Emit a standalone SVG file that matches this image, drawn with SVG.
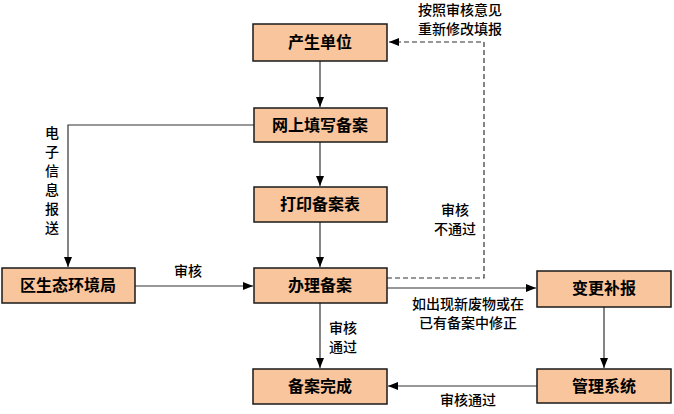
<svg xmlns="http://www.w3.org/2000/svg" width="674" height="414" viewBox="0 0 674 414">
<defs>
<marker id="ah" markerWidth="10" markerHeight="8" refX="10" refY="4" orient="auto" markerUnits="userSpaceOnUse">
<path d="M0,0 L10,4 L0,8 Z" fill="#000"/>
</marker>
<style>
.box{fill:#F8C59C;stroke:#1a1a1a;stroke-width:1.5}
.bt{font-family:"Noto Sans CJK SC","Noto Sans",sans-serif;font-size:16px;font-weight:bold;text-anchor:middle;fill:#000}
.lb{font-family:"Noto Sans CJK SC","Noto Sans",sans-serif;font-size:14px;font-weight:500;text-anchor:middle;fill:#000}
.ln{fill:none;stroke:#333;stroke-width:1.2}
.dl{fill:none;stroke:#333;stroke-width:1.2;stroke-dasharray:5,3}
</style>
</defs>
<rect width="674" height="414" fill="#fff"/>
<g id="connectors">
<path class="ln" d="M320,61 V107" marker-end="url(#ah)"/>
<path class="ln" d="M320,142 V186" marker-end="url(#ah)"/>
<path class="ln" d="M320,222 V267" marker-end="url(#ah)"/>
<path class="ln" d="M254,125 H68 V267" marker-end="url(#ah)"/>
<path class="ln" d="M135,286 H253" marker-end="url(#ah)"/>
<path class="ln" d="M320,303 V368" marker-end="url(#ah)"/>
<path class="dl" d="M387,278 H484 V42 H389" marker-end="url(#ah)"/>
<path class="ln" d="M387,288 H536" marker-end="url(#ah)"/>
<path class="ln" d="M604,307 V368" marker-end="url(#ah)"/>
<path class="ln" d="M537,386 H388" marker-end="url(#ah)"/>
<text class="lb" x="460" y="15">按照审核意见</text>
<text class="lb" x="460" y="34">重新修改填报</text>
<text class="lb" x="455" y="215">审核</text>
<text class="lb" x="455" y="234">不通过</text>
<text class="lb" x="188" y="276">审核</text>
<text class="lb" x="343" y="333">审核</text>
<text class="lb" x="343" y="352">通过</text>
<text class="lb" x="468" y="309">如出现新废物或在</text>
<text class="lb" x="468" y="328">已有备案中修正</text>
<text class="lb" x="468" y="405">审核通过</text>
<g class="lb">
<text x="52" y="138">电</text>
<text x="52" y="157">子</text>
<text x="52" y="176">信</text>
<text x="52" y="195">息</text>
<text x="52" y="214">报</text>
<text x="52" y="233">送</text>
</g>
</g>
<g id="n1"><rect class="box" x="253" y="24" width="134" height="37"/><text class="bt" x="320" y="48">产生单位</text></g>
<g id="n2"><rect class="box" x="254" y="108" width="133" height="34"/><text class="bt" x="320" y="131">网上填写备案</text></g>
<g id="n3"><rect class="box" x="254" y="187" width="133" height="35"/><text class="bt" x="320" y="210">打印备案表</text></g>
<g id="n4"><rect class="box" x="254" y="268" width="133" height="35"/><text class="bt" x="320" y="291">办理备案</text></g>
<g id="n5"><rect class="box" x="2" y="268" width="133" height="35"/><text class="bt" x="68" y="291">区生态环境局</text></g>
<g id="n6"><rect class="box" x="253" y="369" width="134" height="35"/><text class="bt" x="320" y="392">备案完成</text></g>
<g id="n7"><rect class="box" x="537" y="271" width="134" height="36"/><text class="bt" x="604" y="294">变更补报</text></g>
<g id="n8"><rect class="box" x="537" y="369" width="134" height="34"/><text class="bt" x="604" y="392">管理系统</text></g>
</svg>
